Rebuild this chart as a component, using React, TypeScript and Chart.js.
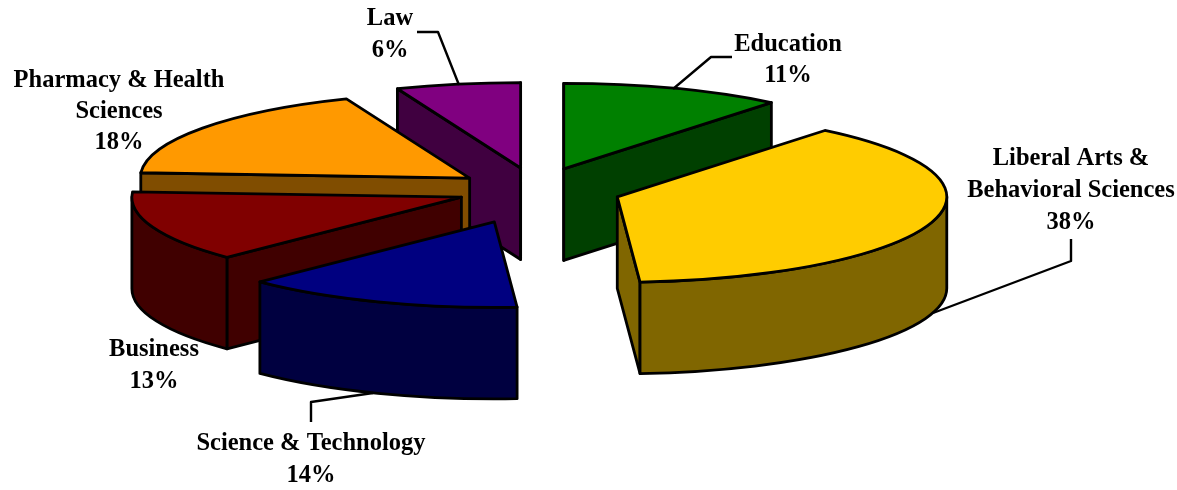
import React, { useEffect, useRef } from "react";
import { Chart, registerables } from "chart.js";

Chart.register(...registerables);

const categories = [
  "Education",
  "Liberal Arts & Behavioral Sciences",
  "Science & Technology",
  "Business",
  "Pharmacy & Health Sciences",
  "Law",
];
const shares = [10.85, 38.05, 13.7, 13.4, 17.9, 6.1];

const topColors = ["#008000", "#FFCC00", "#000080", "#800000", "#FF9900", "#800080"];
const sideColors = ["#004000", "#806600", "#000040", "#400000", "#804D00", "#400040"];

const W = 1177;
const H = 490;

// Slice styling for the 3-D look: painter's order, and how far each slice is pulled out along its own mid-angle.
const drawOrder = [5, 0, 4, 3, 2, 1];
const explodeX = [68, 80, 132, 85, 88, 107];
const explodeY = [23.4, 19.4, 33, 17.7, 22, 23.4];
const pie = { rx: 329.5, ry: 85.5, depth: 91.5 };

const labelLayout = [
  { x: 788, y: 44.5, lines: ["Education"], lh: 31.5 },
  { x: 1071, y: 158.5, lines: ["Liberal Arts &", "Behavioral Sciences"], lh: 32 },
  { x: 311, y: 444, lines: ["Science & Technology"], lh: 32 },
  { x: 154, y: 350, lines: ["Business"], lh: 32 },
  { x: 119, y: 81, lines: ["Pharmacy & Health", "Sciences"], lh: 31 },
  { x: 390, y: 19, lines: ["Law"], lh: 32 },
];
const leaders = [
  [[732, 57], [711, 57], [673, 89]],
  [[1071, 239], [1071, 261], [933, 313]],
  [[311, 422], [311, 402], [373, 393]],
  [],
  [],
  [[417, 32], [438, 32], [459, 85]],
];

const pie3d = {
  id: "pie3d",
  beforeDatasetsDraw(chart: any) {
    const ctx = chart.ctx as CanvasRenderingContext2D;
    const arcs = chart.getDatasetMeta(0).data;
    const { rx, ry, depth } = pie;
    ctx.save();
    ctx.lineWidth = 2.8;
    ctx.strokeStyle = "#000";
    ctx.lineJoin = "round";

    const paint = (fill: string) => {
      ctx.fillStyle = fill;
      ctx.fill();
      ctx.stroke();
    };

    for (const i of drawOrder) {
      const arc = arcs[i];
      const a0 = arc.startAngle;
      const a1 = arc.endAngle;
      const mid = (a0 + a1) / 2;
      const cx = arc.x + Math.cos(mid) * explodeX[i];
      const cy = arc.y + Math.sin(mid) * explodeY[i];
      const side = sideColors[i];

      const wall = (a: number) => {
        const px = cx + Math.cos(a) * rx;
        const py = cy + Math.sin(a) * ry;
        ctx.beginPath();
        ctx.moveTo(cx, cy);
        ctx.lineTo(px, py);
        ctx.lineTo(px, py + depth);
        ctx.lineTo(cx, cy + depth);
        ctx.closePath();
        paint(side);
      };
      if (Math.cos(a0) < 1e-6) wall(a0);
      if (Math.cos(a1) > -1e-6) wall(a1);

      const f0 = Math.max(a0, 0);
      const f1 = Math.min(a1, Math.PI);
      if (f0 < f1) {
        ctx.beginPath();
        ctx.ellipse(cx, cy, rx, ry, 0, f0, f1);
        ctx.ellipse(cx, cy + depth, rx, ry, 0, f1, f0, true);
        ctx.closePath();
        paint(side);
      }

      ctx.beginPath();
      ctx.moveTo(cx, cy);
      ctx.ellipse(cx, cy, rx, ry, 0, a0, a1);
      ctx.closePath();
      paint(arc.options.backgroundColor);
    }

    ctx.lineWidth = 2.4;
    leaders.forEach((pts) => {
      if (!pts.length) return;
      ctx.beginPath();
      pts.forEach(([x, y], k) => (k ? ctx.lineTo(x, y) : ctx.moveTo(x, y)));
      ctx.stroke();
    });

    ctx.fillStyle = "#000";
    ctx.font = 'bold 24.5px "Liberation Serif"';
    ctx.textAlign = "center";
    ctx.textBaseline = "middle";
    labelLayout.forEach((l, i) => {
      const rows = [...l.lines, `${Math.round(shares[i])}%`];
      rows.forEach((t, k) => ctx.fillText(t, l.x, l.y + k * l.lh));
    });
    ctx.restore();
    return false;
  },
};

export default function App() {
  const ref = useRef<HTMLCanvasElement>(null);
  useEffect(() => {
    const chart = new Chart(ref.current!, {
      type: "pie",
      data: {
        labels: categories,
        datasets: [{ data: shares, backgroundColor: topColors, borderWidth: 0 }],
      },
      options: {
        animation: false,
        responsive: false,
        layout: { padding: { right: W - 2 * 541, bottom: H - 2 * 191 } },
        plugins: { legend: { display: false }, tooltip: { enabled: false } },
      },
      plugins: [pie3d],
    } as any);
    return () => chart.destroy();
  }, []);
  return (
    <div style={{ position: "absolute", left: 0, top: 0, width: W, height: H, background: "#fff" }}>
      <canvas ref={ref} width={W} height={H} style={{ display: "block" }} />
    </div>
  );
}
